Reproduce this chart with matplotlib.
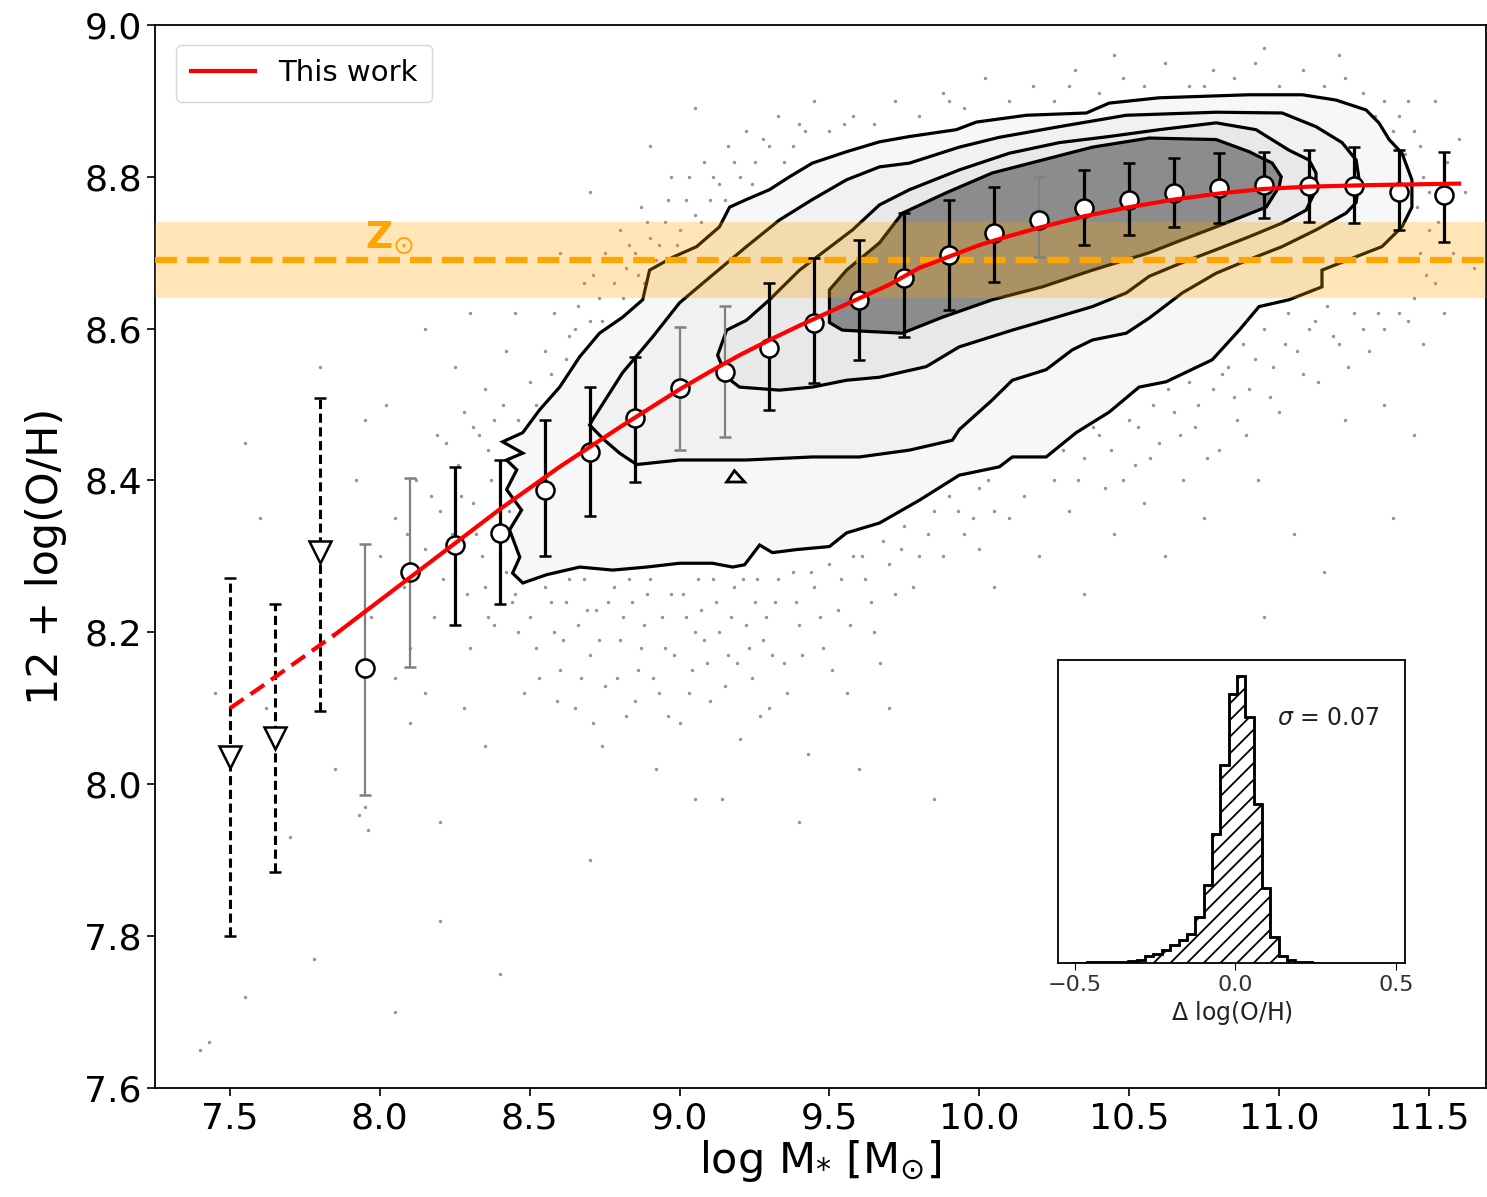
import numpy as np
import matplotlib.pyplot as plt

# binned median metallicities (open circles)
mass = [7.95, 8.10, 8.25, 8.40, 8.55, 8.70, 8.85, 9.00, 9.15, 9.30, 9.45, 9.60, 9.75,
        9.90, 10.05, 10.20, 10.35, 10.50, 10.65, 10.80, 10.95, 11.10, 11.25, 11.40, 11.55]
oh = [8.153, 8.280, 8.315, 8.331, 8.388, 8.438, 8.482, 8.522, 8.543, 8.575, 8.607, 8.638, 8.667,
      8.697, 8.726, 8.743, 8.759, 8.770, 8.779, 8.785, 8.789, 8.788, 8.788, 8.780, 8.776]
oh_lo = [7.986, 8.154, 8.210, 8.237, 8.300, 8.353, 8.398, 8.440, 8.457, 8.493, 8.528, 8.559, 8.589,
         8.625, 8.662, 8.694, 8.710, 8.723, 8.734, 8.739, 8.746, 8.741, 8.739, 8.730, 8.714]
oh_hi = [8.316, 8.403, 8.418, 8.427, 8.480, 8.523, 8.563, 8.602, 8.630, 8.660, 8.693, 8.717, 8.752,
         8.770, 8.787, 8.800, 8.809, 8.818, 8.825, 8.831, 8.833, 8.835, 8.839, 8.835, 8.833]
faint = [1, 1, 0, 0, 0, 0, 0, 1, 1, 0, 0, 0, 0, 0, 0, 1, 0, 0, 0, 0, 0, 0, 0, 0, 0]

# upper limits (triangles)
mass_lim = [7.50, 7.65, 7.80]
oh_lim = [8.036, 8.061, 8.306]
lim_lo = [7.800, 7.884, 8.097]
lim_hi = [8.272, 8.237, 8.509]

# fitted relation
fit_x = [7.5, 7.6, 7.7, 7.85, 8.0, 8.1, 8.2, 8.3, 8.4, 8.5, 8.6, 8.7, 8.8, 8.9, 9.0, 9.1, 9.2,
         9.3, 9.4, 9.5, 9.6, 9.7, 9.8, 9.9, 10.0, 10.1, 10.2, 10.35, 10.5, 10.65, 10.8, 10.95,
         11.1, 11.3, 11.6]
fit_y = [8.100, 8.127, 8.155, 8.197, 8.242, 8.272, 8.302, 8.332, 8.362, 8.390, 8.418, 8.444,
         8.470, 8.495, 8.520, 8.543, 8.565, 8.585, 8.604, 8.622, 8.640, 8.658, 8.680, 8.695,
         8.710, 8.722, 8.733, 8.748, 8.760, 8.770, 8.778, 8.784, 8.787, 8.789, 8.791]
fit_break = 7.85

z_sun = 8.69
z_sun_lo = 8.64
z_sun_hi = 8.74

# density contours (outer to inner)
c1_x = [8.41, 8.477, 8.533, 8.60, 8.667, 8.733, 8.81, 8.877, 8.90, 8.977, 9.057, 9.133, 9.167,
        9.223, 9.30, 9.367, 9.443, 9.557, 9.667, 9.767, 9.923, 9.99, 10.157, 10.357, 10.433,
        10.60, 10.90, 11.077, 11.19, 11.29, 11.333, 11.367, 11.41, 11.443, 11.443, 11.41,
        11.343, 11.233, 11.143, 11.143, 11.033, 10.933, 10.867, 10.777, 10.623, 10.533,
        10.433, 10.323, 10.223, 10.11, 10.067, 9.933, 9.80, 9.667, 9.557, 9.50, 9.39, 9.31,
        9.267, 9.217, 9.177, 9.11, 9.0, 8.89, 8.777, 8.667, 8.557, 8.477, 8.443, 8.467,
        8.433, 8.473, 8.423, 8.457, 8.423, 8.477]
c1_y = [8.451, 8.463, 8.493, 8.523, 8.563, 8.594, 8.615, 8.638, 8.677, 8.694, 8.708, 8.734,
        8.760, 8.770, 8.783, 8.800, 8.818, 8.833, 8.846, 8.853, 8.862, 8.872, 8.881, 8.884,
        8.897, 8.904, 8.908, 8.908, 8.901, 8.888, 8.871, 8.849, 8.831, 8.796, 8.760, 8.734,
        8.708, 8.691, 8.677, 8.655, 8.638, 8.629, 8.598, 8.559, 8.530, 8.523, 8.490, 8.463,
        8.431, 8.431, 8.418, 8.407, 8.374, 8.344, 8.331, 8.313, 8.309, 8.305, 8.315, 8.289,
        8.286, 8.291, 8.291, 8.286, 8.282, 8.286, 8.276, 8.265, 8.278, 8.299, 8.335, 8.361,
        8.388, 8.414, 8.427, 8.436]

c2_x = [8.70, 8.71, 8.81, 8.91, 9.0, 9.09, 9.223, 9.333, 9.443, 9.557, 9.667, 9.767, 9.933,
        10.067, 10.267, 10.49, 10.79, 11.01, 11.123, 11.21, 11.257, 11.267, 11.257, 11.223,
        11.123, 11.01, 10.9, 10.79, 10.677, 10.567, 10.49, 10.377, 10.31, 10.223, 10.11,
        10.043, 9.933, 9.91, 9.767, 9.60, 9.443, 9.223, 9.0, 8.857, 8.80, 8.75]
c2_y = [8.473, 8.480, 8.542, 8.589, 8.634, 8.664, 8.708, 8.743, 8.770, 8.796, 8.813, 8.818,
        8.839, 8.852, 8.866, 8.881, 8.885, 8.884, 8.866, 8.845, 8.822, 8.796, 8.766, 8.752,
        8.730, 8.708, 8.691, 8.673, 8.647, 8.614, 8.594, 8.585, 8.572, 8.546, 8.532, 8.506,
        8.467, 8.453, 8.440, 8.431, 8.431, 8.427, 8.427, 8.421, 8.436, 8.453]

c3_x = [9.127, 9.157, 9.223, 9.30, 9.40, 9.49, 9.577, 9.667, 9.767, 9.933, 10.1, 10.267,
        10.433, 10.6, 10.79, 10.923, 11.033, 11.1, 11.123, 11.123, 11.09, 11.01, 10.9, 10.79,
        10.677, 10.567, 10.49, 10.377, 10.223, 10.11, 9.933, 9.823, 9.667, 9.557, 9.443,
        9.333, 9.20, 9.157]
c3_y = [8.565, 8.598, 8.611, 8.638, 8.677, 8.704, 8.730, 8.763, 8.783, 8.809, 8.831, 8.845,
        8.853, 8.862, 8.871, 8.862, 8.835, 8.822, 8.805, 8.783, 8.756, 8.739, 8.721, 8.704,
        8.687, 8.669, 8.647, 8.629, 8.611, 8.598, 8.576, 8.550, 8.536, 8.532, 8.523, 8.519,
        8.523, 8.536]

c4_x = [9.50, 9.557, 9.667, 9.743, 9.89, 10.043, 10.21, 10.377, 10.567, 10.79, 10.90, 10.977,
        11.007, 11.0, 10.957, 10.79, 10.677, 10.567, 10.377, 10.21, 10.043, 9.877, 9.743,
        9.543, 9.50]
c4_y = [8.651, 8.677, 8.713, 8.752, 8.779, 8.805, 8.822, 8.839, 8.851, 8.849, 8.833, 8.818,
        8.800, 8.787, 8.760, 8.734, 8.717, 8.700, 8.677, 8.655, 8.638, 8.615, 8.594, 8.598,
        8.608]

islet_x = [9.157, 9.183, 9.217]
islet_y = [8.398, 8.413, 8.398]

# individual galaxies outside the outermost contour
gal_x = [8.45, 8.50, 8.52, 8.48, 8.55, 8.58, 8.60, 8.62, 8.65, 8.66, 8.68, 8.70, 8.72, 8.74,
         8.75, 8.78, 8.80, 8.82, 8.84, 8.86, 8.88, 8.90, 8.92, 8.93, 8.95, 8.97, 9.00, 9.02,
         9.04, 9.06, 9.08, 9.10, 9.12, 9.14, 9.16, 9.18, 9.20, 9.22, 9.24, 9.26, 9.28, 9.30,
         9.32, 9.35, 9.38, 9.40, 9.43, 9.45, 9.48, 9.50, 9.53, 9.56, 9.58, 9.62, 9.65, 9.68,
         9.72, 9.75, 9.80, 9.85, 9.90, 9.95, 10.0, 10.05, 9.60, 9.85, 9.70,
         8.00, 8.05, 8.08, 8.12, 8.15, 8.18, 8.20, 8.22, 8.25, 8.27, 8.30, 8.32, 8.33, 8.35,
         8.37, 8.38, 8.40, 8.41, 8.43, 8.44, 8.10, 8.15, 8.28, 8.35, 8.05, 7.97, 7.92, 8.02,
         8.25, 8.35, 8.42, 7.95, 7.96, 7.93, 8.10, 8.20,
         8.50, 8.55, 8.58, 8.62, 8.65, 8.68, 8.70, 8.73, 8.75, 8.78, 8.80, 8.82, 8.85, 8.87,
         8.88, 8.90, 8.92, 8.95, 8.97, 9.00, 9.02, 9.05, 9.08, 9.10, 9.13, 9.16, 9.20, 9.22,
         9.25, 9.30, 9.33, 9.38, 9.42, 8.60, 8.45, 8.70, 9.05, 8.90, 9.45, 8.30,
         9.50, 9.58, 9.65, 9.72, 9.80, 9.88, 9.95, 10.02, 10.10, 10.18, 10.25, 10.32, 10.40,
         10.48, 10.55, 10.62, 10.70, 10.78, 10.85, 10.92, 11.00, 11.08, 11.15, 11.22, 11.28,
         10.95, 10.45, 11.20,
         11.35, 11.40, 11.45, 11.42, 11.48, 11.46, 11.50, 11.47, 11.52, 11.45, 11.40, 11.55,
         11.58, 11.60, 11.35, 11.48, 11.52, 11.62, 11.56, 11.65,
         10.25, 10.30, 10.35, 10.40, 10.42, 10.45, 10.50, 10.52, 10.55, 10.58, 10.60, 10.62,
         10.65, 10.68, 10.70, 10.72, 10.75, 10.78, 10.80, 10.83, 10.86, 10.88, 10.90, 10.93,
         10.95, 10.98, 11.00, 11.03, 11.06, 11.10, 11.13, 11.16, 11.20, 11.25, 11.30, 11.22,
         11.05, 10.35, 10.95, 11.35, 10.15, 10.20, 10.10, 10.00, 10.05, 10.45, 10.85, 11.45,
         11.38, 11.15,
         7.40, 7.43, 7.55, 7.70, 7.78, 7.62, 7.55, 7.45, 8.05, 8.40, 8.70, 8.20, 9.05, 9.40,
         10.30, 10.65, 11.10, 7.80, 7.85, 7.60, 8.15, 7.95,
         8.46, 8.51, 8.53, 8.57, 8.59, 8.61, 8.63, 8.67, 8.69, 8.71, 8.73, 8.76, 8.79, 8.81,
         8.83, 8.85, 8.87, 8.89, 8.91, 8.94, 8.96, 8.98, 9.01, 9.03, 9.05, 9.07, 9.09, 9.11,
         9.13, 9.15, 9.17, 9.19, 9.21, 9.23, 9.25, 9.27, 9.29, 9.31, 9.33, 9.36, 9.39, 9.41,
         9.44, 9.47, 9.51, 9.54, 9.57, 9.61, 9.64, 9.67, 9.70, 9.74, 9.78, 9.83, 9.88, 9.93,
         9.98, 10.03,
         8.24, 8.26, 8.29, 8.31, 8.34, 8.36, 8.39, 8.42, 8.44, 8.46, 8.40, 8.36, 8.31, 8.21,
         8.17, 8.13, 8.09, 8.19, 8.28, 8.38,
         8.52, 8.57, 8.63, 8.66, 8.71, 8.74, 8.77, 8.81, 8.83, 8.86, 8.89, 8.93, 8.96, 8.99,
         9.03, 9.07, 9.11, 9.15, 9.18, 9.24, 9.28, 9.35, 9.40,
         10.28, 10.33, 10.38, 10.44, 10.48, 10.53, 10.57, 10.63, 10.67, 10.73, 10.76, 10.81,
         10.85, 10.89, 10.92, 10.97, 11.02, 11.08, 11.12, 11.18, 11.23, 11.28, 11.33,
         11.32, 11.38, 11.43, 11.47, 11.50, 11.53, 11.49, 11.43, 9.55, 9.90, 10.30, 10.75]
gal_y = [8.25, 8.22, 8.18, 8.12, 8.26, 8.20, 8.15, 8.24, 8.10, 8.21, 8.27, 8.17, 8.23, 8.05,
         8.13, 8.26, 8.19, 8.09, 8.24, 8.15, 8.21, 8.27, 8.02, 8.12, 8.18, 8.25, 8.08, 8.22,
         8.15, 8.27, 8.19, 8.11, 8.24, 7.98, 8.17, 8.26, 8.06, 8.21, 8.14, 8.27, 8.19, 8.10,
         8.24, 8.16, 8.28, 8.21, 8.04, 8.26, 8.18, 8.29, 8.23, 8.12, 8.30, 8.27, 8.20, 8.32,
         8.25, 8.34, 8.30, 8.36, 8.38, 8.33, 8.39, 8.36, 8.02, 7.98, 8.10,
         8.30, 8.35, 8.26, 8.40, 8.31, 8.22, 8.36, 8.45, 8.28, 8.38, 8.18, 8.33, 8.46, 8.26,
         8.40, 8.21, 8.30, 8.50, 8.36, 8.24, 8.18, 8.12, 8.10, 8.05, 8.14, 8.22, 8.40, 8.50,
         8.55, 8.52, 8.57, 7.97, 7.94, 7.96, 8.08, 7.95,
         8.53, 8.57, 8.62, 8.56, 8.60, 8.66, 8.61, 8.64, 8.70, 8.66, 8.73, 8.68, 8.70, 8.76,
         8.66, 8.72, 8.69, 8.74, 8.80, 8.73, 8.77, 8.75, 8.82, 8.77, 8.79, 8.84, 8.80, 8.86,
         8.82, 8.84, 8.88, 8.84, 8.86, 8.70, 8.62, 8.78, 8.89, 8.84, 8.90, 8.62,
         8.86, 8.88, 8.87, 8.90, 8.88, 8.91, 8.89, 8.93, 8.90, 8.92, 8.90, 8.94, 8.91,
         8.93, 8.92, 8.95, 8.92, 8.94, 8.93, 8.95, 8.92, 8.94, 8.92, 8.93, 8.91,
         8.97, 8.96, 8.96,
         8.90, 8.88, 8.86, 8.83, 8.80, 8.76, 8.73, 8.70, 8.66, 8.64, 8.62, 8.62,
         8.70, 8.85, 8.60, 8.58, 8.90, 8.78, 8.82, 8.68,
         8.40, 8.36, 8.43, 8.46, 8.39, 8.33, 8.48, 8.42, 8.37, 8.50, 8.45, 8.30,
         8.49, 8.40, 8.53, 8.47, 8.35, 8.52, 8.44, 8.55, 8.48, 8.58, 8.52, 8.40,
         8.60, 8.55, 8.49, 8.62, 8.57, 8.60, 8.53, 8.63, 8.58, 8.62, 8.57, 8.48,
         8.33, 8.25, 8.22, 8.50, 8.38, 8.30, 8.35, 8.31, 8.26, 8.10, 8.05, 8.46,
         8.35, 8.28,
         7.65, 7.66, 7.72, 7.93, 7.77, 8.10, 8.45, 8.12, 7.70, 7.75, 7.90, 7.82, 7.98, 7.95,
         8.06, 8.12, 8.10, 8.55, 8.02, 8.35, 8.60, 8.48,
         8.20, 8.27, 8.14, 8.24, 8.11, 8.19, 8.27, 8.14, 8.23, 8.08, 8.19, 8.24, 8.14, 8.22,
         8.27, 8.11, 8.18, 8.25, 8.14, 8.22, 8.09, 8.17, 8.25, 8.12, 8.20, 8.23, 8.16, 8.27,
         8.20, 8.13, 8.22, 8.16, 8.27, 8.18, 8.24, 8.09, 8.22, 8.17, 8.27, 8.12, 8.24, 8.17,
         8.28, 8.22, 8.15, 8.27, 8.21, 8.30, 8.24, 8.16, 8.29, 8.31, 8.26, 8.33, 8.30, 8.36,
         8.35, 8.40,
         8.33, 8.42, 8.25, 8.37, 8.30, 8.44, 8.34, 8.28, 8.42, 8.48, 8.38, 8.22, 8.47, 8.27,
         8.38, 8.28, 8.33, 8.46, 8.49, 8.48,
         8.50, 8.54, 8.59, 8.63, 8.67, 8.61, 8.69, 8.64, 8.71, 8.67, 8.74, 8.71, 8.77, 8.71,
         8.80, 8.74, 8.80, 8.77, 8.82, 8.79, 8.85, 8.82, 8.87,
         8.44, 8.40, 8.47, 8.44, 8.40, 8.47, 8.43, 8.52, 8.46, 8.50, 8.43, 8.54,
         8.51, 8.46, 8.56, 8.51, 8.58, 8.54, 8.61, 8.59, 8.55, 8.60, 8.62,
         8.88, 8.86, 8.90, 8.84, 8.78, 8.74, 8.67, 8.61, 8.87, 8.90, 8.92, 8.92]

# residual distribution for the inset
hist_width = 0.026
hist_start = -0.515
hist_counts = [0.001, 0.001, 0.002, 0.002, 0.003, 0.004, 0.005, 0.008, 0.012, 0.023, 0.030,
               0.046, 0.064, 0.080, 0.100, 0.160, 0.270, 0.450, 0.688, 0.936, 1.000, 0.855,
               0.555, 0.260, 0.090, 0.023, 0.010, 0.005, 0.002, 0.001]
hist_edges = hist_start + hist_width * np.arange(len(hist_counts) + 1)

plt.rcParams['hatch.linewidth'] = 1.3

fig = plt.figure(figsize=(14.87, 11.97), dpi=100)
ax = fig.add_axes([0.1042, 0.0911, 0.8951, 0.8881])

ax.scatter(gal_x, gal_y, s=6, color='#7a7a7a', alpha=0.8, linewidths=0, zorder=1)

for cx, cy, col in [(c1_x, c1_y, '#f6f7f9'), (c2_x, c2_y, '#f1f1f2'),
                    (c3_x, c3_y, '#e8e8e8'), (c4_x, c4_y, '#8c8c8c')]:
    ax.fill(cx, cy, facecolor=col, edgecolor='black', lw=2.3, zorder=2)
ax.fill(islet_x, islet_y, facecolor='#f6f7f9', edgecolor='black', lw=2, zorder=2)

ax.axhspan(z_sun_lo, z_sun_hi, color='orange', alpha=0.28, lw=0, zorder=3)
ax.axhline(z_sun, color='orange', lw=4.5, dashes=(3.5, 1.6), zorder=4)
ax.text(7.95, 8.695, r'$\mathbf{Z}_{\odot}$', color='orange', fontsize=27,
        ha='left', va='bottom', zorder=4)

# upper limits
oh_lim_a = np.array(oh_lim)
eb = ax.errorbar(mass_lim, oh_lim, yerr=[oh_lim_a - np.array(lim_lo), np.array(lim_hi) - oh_lim_a],
                 fmt='v', mfc='white', mec='black', ms=16, mew=1.8, ecolor='black',
                 elinewidth=2.2, capsize=4, capthick=2.2, zorder=5)
eb[2][0].set_linestyle((0, (3, 1.5)))

# binned medians
oh_a = np.array(oh)
lo_a = oh_a - np.array(oh_lo)
hi_a = np.array(oh_hi) - oh_a
for i in range(len(mass)):
    if faint[i]:
        ec, ew = '#808080', 1.6
    else:
        ec, ew = 'black', 2.3
    ax.errorbar(mass[i], oh[i], yerr=[[lo_a[i]], [hi_a[i]]], fmt='o', mfc='white',
                mec='black', ms=13, mew=1.8, ecolor=ec, elinewidth=ew, capsize=4,
                capthick=ew, zorder=5)

fit_x_a = np.array(fit_x)
fit_y_a = np.array(fit_y)
m = fit_x_a <= fit_break
ax.plot(fit_x_a[m], fit_y_a[m], color='red', lw=3, dashes=(4, 2), zorder=6)
ax.plot(fit_x_a[fit_x_a >= fit_break], fit_y_a[fit_x_a >= fit_break], color='red', lw=3,
        zorder=6, label='This work')

ax.set_xlim(7.25, 11.69)
ax.set_ylim(7.6, 9.0)
ax.set_xticks(np.arange(7.5, 11.6, 0.5))
ax.set_yticks(np.arange(7.6, 9.01, 0.2))
ax.tick_params(labelsize=26, length=6, width=1.2)
for s in ax.spines.values():
    s.set_linewidth(1.3)
ax.set_xlabel(r'log M$_{*}$ [M$_{\odot}$]', fontsize=31, labelpad=2)
ax.set_ylabel('12 + log(O/H)', fontsize=31, labelpad=12)
ax.legend(loc='upper left', fontsize=21, handlelength=2.2, borderpad=0.5,
          bbox_to_anchor=(0.005, 0.995))

# inset histogram
ax2 = fig.add_axes([0.7115, 0.1955, 0.2334, 0.2531])
ax2.stairs(hist_counts, hist_edges, fill=True, facecolor='none', edgecolor='black',
           hatch='//', lw=1.8)
ax2.stairs(hist_counts, hist_edges, color='black', lw=1.8)
ax2.set_xlim(-0.552, 0.528)
ax2.set_ylim(0, 1.055)
ax2.set_yticks([])
ax2.set_xticks([-0.5, 0.0, 0.5])
ax2.tick_params(labelsize=16, length=5, labelcolor='#333333')
ax2.set_xlabel(r'$\Delta$ log(O/H)', fontsize=17, color='#222222', labelpad=3)
ax2.text(0.63, 0.81, r'$\sigma$ = 0.07', transform=ax2.transAxes, fontsize=17,
         color='#222222', va='center')
for s in ax2.spines.values():
    s.set_linewidth(1.3)

fig.savefig('out.png', dpi=100)
